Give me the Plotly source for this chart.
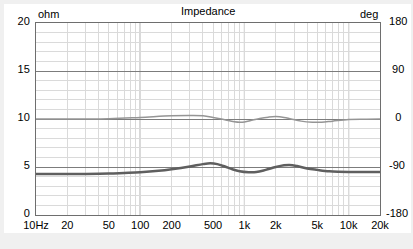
import numpy as np
import plotly.graph_objects as go

# ---- data ----
imp_freq = [10, 20, 30, 50, 70, 100, 150, 200, 300, 400, 470, 550, 650, 750, 900,
            1100, 1300, 1600, 2000, 2400, 2700, 3200, 4000, 5000, 6500, 8000, 10000, 20000]
imp_ohm = [4.27, 4.27, 4.28, 4.32, 4.38, 4.45, 4.6, 4.76, 5.05, 5.3, 5.38, 5.3, 5.05, 4.8, 4.55,
           4.45, 4.47, 4.7, 5.0, 5.18, 5.22, 5.1, 4.85, 4.7, 4.55, 4.5, 4.48, 4.48]

ph_freq = [10, 50, 100, 200, 300, 400, 500, 600, 700, 800, 900, 1000, 1200, 1400, 1700,
           2000, 2400, 2800, 3500, 4500, 5500, 7000, 10000, 15000, 20000]
ph_deg = [0, 0.5, 3, 6, 6.5, 6, 3, 0, -3, -5, -6, -5.5, -2, 1, 3.5,
          4.5, 3, 0, -4, -6, -6, -4, -1, -0.5, 0]

x_tickvals = [10, 20, 50, 100, 200, 500, 1000, 2000, 5000, 10000, 20000]
x_ticktext = ["10Hz", "20", "50", "100", "200", "500", "1k", "2k", "5k", "10k", "20k"]
x_minor = [m * d for d in [10, 100, 1000, 10000] for m in range(1, 10) if m * d <= 20000]
decades = [100, 1000, 10000]

y2_tickvals = [-180, -90, 0, 90, 180]
y2_ticktext = ["-180", "\u00a0-90", "\u00a0\u00a0\u00a00", "\u00a0\u00a090", "\u00a0180"]

FONT = "Liberation Sans, Arial, sans-serif"
MAJOR = "#7c7c7c"
MINOR = "#dadada"

fig = go.Figure()
fig.add_trace(go.Scatter(x=ph_freq, y=ph_deg, yaxis="y2", mode="lines",
                         line=dict(color="#959595", width=1.5, shape="spline"),
                         showlegend=False, hoverinfo="skip"))
fig.add_trace(go.Scatter(x=imp_freq, y=imp_ohm, mode="lines",
                         line=dict(color="#5f5f5f", width=2.5, shape="spline"),
                         showlegend=False, hoverinfo="skip"))

shapes = [dict(type="rect", xref="paper", yref="paper", x0=-0.093, x1=1.09,
               y0=-0.094, y1=1.099, fillcolor="white", line=dict(width=0), layer="below")]
for d in decades:
    shapes.append(dict(type="line", xref="x", yref="paper", x0=d, x1=d, y0=0, y1=1,
                       line=dict(color=MAJOR, width=1), layer="between"))

fig.update_layout(
    width=413, height=249,
    margin=dict(l=36, r=33, t=23, b=34, pad=0, autoexpand=False),
    paper_bgcolor="#f0f0f0", plot_bgcolor="white",
    font=dict(family=FONT, size=11, color="#000000"),
    shapes=shapes,
    xaxis=dict(type="log", range=[1, np.log10(20000)], tickmode="array",
               tickvals=x_tickvals, ticktext=x_ticktext, ticks="",
               showgrid=True, gridcolor=MINOR, gridwidth=1,
               minor=dict(tickvals=x_minor, showgrid=True, gridcolor=MINOR, ticks=""),
               showline=True, mirror=True, linecolor="#6e6e6e", linewidth=1,
               zeroline=False, ticklabelstandoff=0, fixedrange=True, automargin=False),
    yaxis=dict(range=[0, 20], dtick=5, tick0=0, ticks="", showgrid=True,
               gridcolor=MAJOR, gridwidth=1,
               minor=dict(dtick=1, tick0=0, showgrid=True, gridcolor=MINOR, ticks=""),
               showline=True, mirror=True, linecolor="#6e6e6e", linewidth=1,
               zeroline=False, ticklabelstandoff=3, ticklabelshift=-2,
               fixedrange=True, automargin=False),
    yaxis2=dict(overlaying="y", side="right", range=[-180, 180], tickmode="array",
                tickvals=y2_tickvals, ticktext=y2_ticktext, ticks="",
                showgrid=False, zeroline=False, showline=False,
                ticklabelstandoff=5, ticklabelshift=-2, fixedrange=True, automargin=False),
    annotations=[
        dict(text="Impedance", xref="paper", yref="paper", x=0.5, y=1, xanchor="center",
             yanchor="bottom", yshift=4, showarrow=False, font=dict(size=11)),
        dict(text="ohm", xref="paper", yref="paper", x=0, y=1, xanchor="left",
             yanchor="bottom", yshift=1, showarrow=False, font=dict(size=11)),
        dict(text="deg", xref="paper", yref="paper", x=1, y=1, xanchor="right",
             yanchor="bottom", yshift=1, showarrow=False, font=dict(size=11)),
    ],
)

fig.write_html("out.html", config=dict(displayModeBar=False))
